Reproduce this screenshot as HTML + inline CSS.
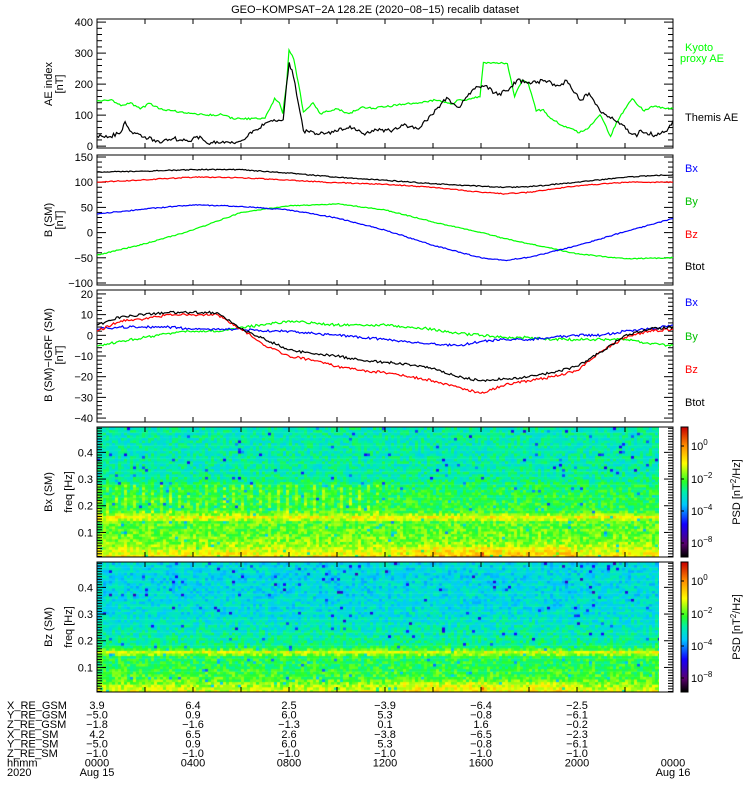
<!DOCTYPE html>
<html><head><meta charset="utf-8">
<style>
html,body{margin:0;padding:0;background:#fff;}
#wrap{position:relative;width:750px;height:800px;overflow:hidden;font-family:"Liberation Sans",sans-serif;}
canvas{position:absolute;}
svg{position:absolute;left:0;top:0;}
svg text{font-family:"Liberation Sans",sans-serif;font-size:11px;}
</style></head>
<body>
<div id="wrap">
<canvas id="spec1" width="562" height="130" style="left:97px;top:427px"></canvas>
<canvas id="spec2" width="562" height="130" style="left:97px;top:562px"></canvas>
<canvas id="cb1" width="7" height="130" style="left:681px;top:427px"></canvas>
<canvas id="cb2" width="7" height="130" style="left:681px;top:562px"></canvas>
<svg id="svg" width="750" height="800"></svg>
</div>
<script>
// ---- data ----
const aeT=[0,0.5,1.0,1.17,1.5,2.0,2.63,3.2,3.8,4.29,4.57,5.0,5.68,6.1,6.51,7.07,7.5,7.76,7.9,8.01,8.18,8.46,8.6,9.15,9.85,10.54,11.1,11.58,12.2,12.75,13.4,14.15,14.57,15.06,15.68,16.17,16.7,17.2,17.49,18.0,18.6,19.3,19.57,20.13,20.5,20.96,21.65,22.49,22.6,23.32,23.74,24];
const themisAE=[32,30,45,79,40,30,10,25,15,32,10,15,10,20,50,76,80,85,200,270,225,110,50,40,45,65,40,55,50,67,55,120,157,125,184,195,165,187,212,206,210,195,212,148,171,113,78,31,50,34,48,83];
const kyT=[0,0.6,1.0,1.4,1.8,2.2,2.63,4.0,4.6,5.2,5.68,6.0,7.0,7.2,7.4,7.6,7.74,7.9,8.0,8.2,8.4,8.6,9.0,9.3,10.0,10.5,11.0,11.5,14.1,14.8,15.0,15.2,15.96,16.1,17.1,17.4,17.7,17.96,18.3,18.6,18.9,19.4,20.1,20.5,20.96,21.4,21.65,22.3,22.8,23.1,24];
const kyotoAE=[145,150,130,140,120,138,120,105,100,102,88,88,90,120,155,140,105,200,310,280,200,110,140,105,120,105,125,122,148,136,148,148,159,270,266,159,212,206,113,118,89,66,43,60,101,31,78,153,113,128,121];
const bT=[0,2,4,6,8,10,12,14,16,17,18,20,22,24];
const bxSM=[37,47,55,52,45,29,5,-25,-50,-55,-49,-26,2,28];
const bySM=[-45,-22,5,40,53,57,45,21,0,-12,-22,-42,-52,-50];
const bzSM=[100,105,110,109,104,99,96,90,80,77,80,93,100,100];
const btotSM=[120,122,125,125,118,110,104,97,92,90,91,100,110,115];
const dT=[0,1,2,3,4,5,6,7,8,9,10,11,12,13,14,15,16,17,18,19,20,21,22,23,24];
const dBtot=[5,9,10,11,11,11,3,-2,-7,-9,-10,-12,-13,-14,-16,-20,-22,-21,-20,-18,-15,-8,0,3,4];
const dBz=[2,7,8,10,10,10,3,-5,-10,-12,-15,-17,-18,-20,-22,-25,-28,-24,-22,-20,-17,-8,-1,2,3];
const dBx=[3,4,4,4,3,3,3,2,2,1,0,-1,-2,-3,-4,-5,-3,-2,-2,-1,0,0,2,3,5];
const dBy=[-5,-3,-1,1,2,2,4,5,7,6,5,5,5,4,3,1,0,-1,-1,-2,-2,-2,-2,-4,-5];
// spectrogram band levels (colour-scale fraction) vs frequency
const specF=[0.01,0.04,0.07,0.12,0.15,0.165,0.175,0.19,0.25,0.29,0.32,0.4,0.5];
const bxLevel=[0.76,0.70,0.64,0.61,0.61,0.74,0.66,0.57,0.56,0.54,0.5,0.49,0.49];
const bzLevel=[0.72,0.66,0.59,0.56,0.56,0.72,0.61,0.52,0.48,0.46,0.45,0.44,0.44];
const orbitRows=[["X_RE_GSM",["3.9","6.4","2.5","\u22123.9","\u22126.4","\u22122.5"]],["Y_RE_GSM",["\u22125.0","0.9","6.0","5.3","\u22120.8","\u22126.1"]],["Z_RE_GSM",["\u22121.8","\u22121.6","\u22121.3","0.1","1.6","\u22120.2"]],["X_RE_SM",["4.2","6.5","2.6","\u22123.8","\u22126.5","\u22122.3"]],["Y_RE_SM",["\u22125.0","0.9","6.0","5.3","\u22120.8","\u22126.1"]],["Z_RE_SM",["\u22121.0","\u22121.0","\u22121.0","\u22121.0","\u22121.0","\u22121.0"]],["hhmm",["0000","0400","0800","1200","1600","2000","0000"]]];

const NS="http://www.w3.org/2000/svg";
const svg=document.getElementById('svg');
function el(tag,attrs,parent){const e=document.createElementNS(NS,tag);for(const k in attrs)e.setAttribute(k,attrs[k]);(parent||svg).appendChild(e);return e;}
function txt(x,y,s,attrs,parent){const e=el('text',Object.assign({x:x,y:y},attrs||{}),parent);e.textContent=s;return e;}
const X0=97,X1=673;
const xs=t=>X0+t*(X1-X0)/24;
function mkY(top,bot,vmin,vmax){return v=>bot-(v-vmin)/(vmax-vmin)*(bot-top);}
function hash(a,b,s){let h=Math.sin(a*127.1+b*311.7+s*74.7)*43758.5453;return h-Math.floor(h);}

// jitter = small rendering texture (px) to mimic the noisy 1-min traces
function line(ts,vs,y,color,name,jit,seed){
  let d='';let first=true;
  for(let i=0;i<ts.length;i++){
    const xa=xs(ts[i]),ya=y(vs[i]);
    if(i===0){d+='M'+xa.toFixed(1)+' '+ya.toFixed(1);continue;}
    const xp=xs(ts[i-1]),yp=y(vs[i-1]);
    const n=Math.max(1,Math.round((xa-xp)/1.5));
    for(let k=1;k<=n;k++){const u=k/n;const xx=xp+(xa-xp)*u;let yy=yp+(ya-yp)*u;
      if(k<n)yy+=(hash(xx,seed,3)-0.5)*jit;
      d+='L'+xx.toFixed(1)+' '+yy.toFixed(1);}
  }
  const p=el('path',{d:d,fill:'none',stroke:color,'stroke-width':1.2});
  
  
}
function frame(top,bot,name){
  const r=el('rect',{x:X0,y:top,width:X1-X0,height:bot-top,fill:'none',stroke:'#000','stroke-width':1});
  
  
  for(let h=0;h<=24;h+=2){const x=xs(h);el('line',{x1:x,x2:x,y1:bot,y2:bot-5,stroke:'#000'});el('line',{x1:x,x2:x,y1:top,y2:top+5,stroke:'#000'});}
}
function yticks(top,bot,y,vmin,vmax,major,minor,fmt,name){
  const g=el('g',{});
  
  
  const n=Math.round((vmax-vmin)/minor);
  for(let i=0;i<=n;i++){const v=vmin+i*minor;const yy=y(v);if(yy<top-0.5||yy>bot+0.5)continue;
    const isMaj=Math.abs(v/major-Math.round(v/major))<1e-6;const L=isMaj?9:5;
    el('line',{x1:X0,x2:X0+L,y1:yy,y2:yy,stroke:'#000'},g);el('line',{x1:X1,x2:X1-L,y1:yy,y2:yy,stroke:'#000'},g);
    if(isMaj&&fmt)txt(X0-4,yy+4,fmt(v),{'text-anchor':'end','font-size':'12'},g);}
}
function ylabel(x,y,lines,name){
  const g=el('g',{transform:`translate(${x},${y}) rotate(-90)`});
  
  
  lines.forEach((s,i)=>txt(0,i*11,s,{'text-anchor':'middle','font-size':'11'},g));
}
const minus=v=>(v<0?'\u2212':'')+Math.abs(v);

const ti=txt(375,13,'GEO\u2212KOMPSAT\u22122A 128.2E (2020\u221208\u221215) recalib dataset',{'text-anchor':'middle','font-size':'12.5'});


// panel 1
const y1=mkY(19,148,-6,410);
frame(19,148,'ae-panel-frame');
yticks(19,148,y1,0,400,100,20,v=>String(v),'ae-y-axis');
line(kyT,kyotoAE,y1,'#00ff00','kyoto-ae-line',2,1);
line(aeT,themisAE,y1,'#000','themis-ae-line',4,2);
ylabel(52,84,['AE index','[nT]'],'ae-y-axis-title');
let t;
t=txt(685,51,'Kyoto',{fill:'#00ff00'});
t=txt(680,62,'proxy AE',{fill:'#00ff00'});
t=txt(685,121,'Themis AE',{fill:'#000'});

// panel 2
const y2=mkY(155,285,-104,154);
frame(155,285,'b-sm-panel-frame');
yticks(155,285,y2,-100,150,50,10,minus,'b-sm-y-axis');
line(bT,bySM,y2,'#00ff00','by-line',1,3);
line(bT,bxSM,y2,'#0000ff','bx-line',1,4);
line(bT,bzSM,y2,'#ff0000','bz-line',1,5);
line(bT,btotSM,y2,'#000','btot-line',1,6);
ylabel(52,220,['B (SM)','[nT]'],'b-sm-y-axis-title');
[['Bx','#0000ff',172],['By','#00c000',205],['Bz','#ff0000',238],['Btot','#000',270]].forEach(a=>{const e=txt(685,a[2],a[0],{fill:a[1]});});

// panel 3
const y3=mkY(290,422,-41.9,21.9);
frame(290,422,'b-igrf-panel-frame');
yticks(290,422,y3,-40,20,10,2,minus,'b-igrf-y-axis');
line(dT,dBy,y3,'#00ff00','d-by-line',2.5,7);
line(dT,dBx,y3,'#0000ff','d-bx-line',2.5,8);
line(dT,dBz,y3,'#ff0000','d-bz-line',2.5,9);
line(dT,dBtot,y3,'#000','d-btot-line',2.5,10);
ylabel(52,355,['B (SM)\u2212IGRF (SM)','[nT]'],'b-igrf-y-axis-title');
[['Bx','#0000ff',306],['By','#00c000',340],['Bz','#ff0000',373],['Btot','#000',406]].forEach(a=>{const e=txt(685,a[2],a[0],{fill:a[1]});});

// spectrogram colormap
const cmapS=[[0,[0,0,0]],[0.1,[90,0,110]],[0.25,[20,0,255]],[0.4,[0,200,255]],[0.5,[0,240,170]],[0.58,[40,255,40]],[0.72,[255,255,0]],[0.86,[255,140,0]],[1,[200,0,0]]];
function cmap(f){f=Math.max(0,Math.min(1,f));for(let i=1;i<cmapS.length;i++){if(f<=cmapS[i][0]){const a=cmapS[i-1],b=cmapS[i];const u=(f-a[0])/(b[0]-a[0]);return a[1].map((c,k)=>Math.round(c+(b[1][k]-c)*u));}}return cmapS[cmapS.length-1][1];}
function interp(xa,ya,x){if(x<=xa[0])return ya[0];for(let i=1;i<xa.length;i++)if(x<=xa[i]){const u=(x-xa[i-1])/(xa[i]-xa[i-1]);return ya[i-1]+u*(ya[i]-ya[i-1]);}return ya[ya.length-1];}
function drawSpec(id,levels,seed,stripes){
  const c=document.getElementById(id).getContext('2d');
  const cw=3,ch=2.6,W=562,H=130;
  const nc=Math.ceil(W/cw),nr=Math.ceil(H/ch);
  for(let i=0;i<nc;i++){const tt=(i*cw)/(X1-X0)*24;
    for(let j=0;j<nr;j++){const yy=H-(j+1)*ch;const fq=0.5-(yy)/(H)*0.49;
      let v=interp(specF,levels,fq);
      v+=(hash(i,j,seed)-0.5)*0.14;
      if(hash(j,i,seed+3)<0.02)v-=0.2;
      if(stripes&&fq>0.18&&fq<0.29&&tt<12&&i%3===0)v+=0.07;
      if(Math.abs(tt-16)<0.12&&fq<0.03)v+=0.12;
      if(tt>12.5&&tt<20&&fq<0.05)v+=0.04;
      const col=cmap(v);c.fillStyle=`rgb(${col[0]},${col[1]},${col[2]})`;c.fillRect(i*cw,yy,cw,ch+0.5);}}
}
drawSpec('spec1',bxLevel,1,true);
drawSpec('spec2',bzLevel,2,false);
['cb1','cb2'].forEach(id=>{const c=document.getElementById(id).getContext('2d');for(let y=0;y<130;y++){const col=cmap(1-y/129);c.fillStyle=`rgb(${col[0]},${col[1]},${col[2]})`;c.fillRect(0,y,7,1);}});

function specPanel(top,bot,label,name){
  const yf=mkY(top,bot,0.008,0.495);
  el('rect',{x:659,y:top,width:14,height:bot-top,fill:'#fff'});
  frame(top,bot,name+'-frame');
  yticks(top,bot,yf,0.01,0.49,0.1,0.01,v=>{const r=Math.round(v*10)/10;return (Math.abs(v-r)<1e-6&&r>0)?r.toFixed(1):'';},name+'-y-axis');
  ylabel(52,(top+bot)/2,[label],name+'-label');
  ylabel(72,(top+bot)/2,['freq [Hz]'],name+'-freq-title');
  const cb=el('rect',{x:681,y:top,width:7,height:bot-top,fill:'none',stroke:'#000'});
  
  [['0',top+23],['\u22122',top+56],['\u22124',top+88],['\u22128',top+120]].forEach(a=>{
    const g=el('text',{x:691,y:a[1],'font-size':'11'});g.textContent='10';
    const s=el('tspan',{dy:-5,'font-size':'8'},g);s.textContent=a[0];
    
    el('line',{x1:681,x2:684,y1:a[1]-4,y2:a[1]-4,stroke:'#000'});});
  const g=el('g',{transform:`translate(740,${(top+bot)/2}) rotate(-90)`});
  
  const tx=el('text',{x:0,y:0,'text-anchor':'middle','font-size':'11'},g);tx.textContent='PSD [nT';
  const sp=el('tspan',{dy:-4,'font-size':'8'},tx);sp.textContent='2';
  const sp2=el('tspan',{dy:4},tx);sp2.textContent='/Hz]';
}
specPanel(427,557,'Bx (SM)','bx-spec');
specPanel(562,692,'Bz (SM)','bz-spec');

const og=el('g',{});
orbitRows.forEach((r,i)=>{const yy=709+i*9.6;txt(7,yy,r[0],{'font-size':'11'},og);
  r[1].forEach((v,k)=>txt(xs(k*4),yy,v,{'text-anchor':'middle','font-size':'11'},og));});
txt(7,776,'2020',{'font-size':'11'},og);
txt(97,776,'Aug 15',{'text-anchor':'middle','font-size':'11'},og);
txt(673,776,'Aug 16',{'text-anchor':'middle','font-size':'11'},og);
</script>
</body></html>
